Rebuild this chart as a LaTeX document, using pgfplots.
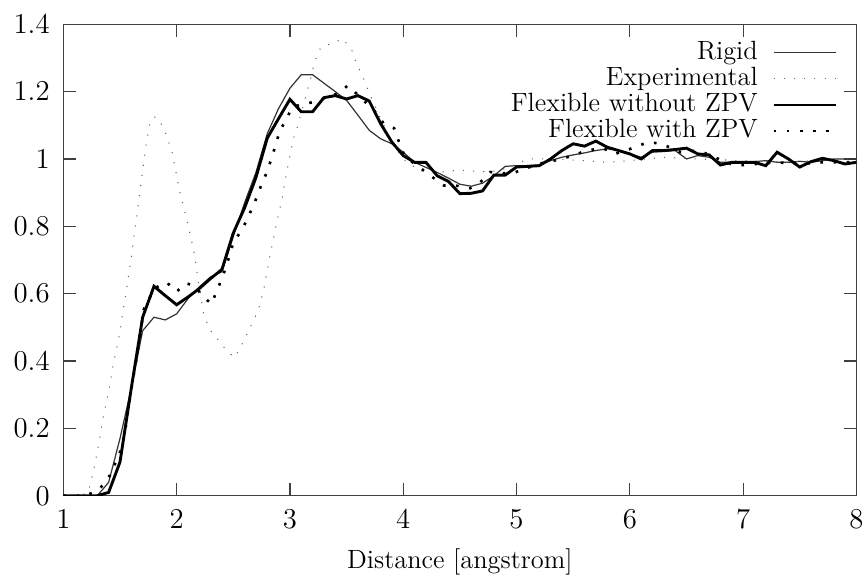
\documentclass[border=0pt]{standalone}
\usepackage{pgfplots}
\pgfplotsset{compat=1.18}
\begin{document}
\begin{tikzpicture}
\begin{axis}[
  width=330.5pt, height=196.5pt, scale only axis,
  xmin=1, xmax=8, ymin=0, ymax=1.4,
  xtick={1,2,3,4,5,6,7,8},
  ytick={0,0.2,0.4,0.6,0.8,1,1.2,1.4},
  tick align=inside, major tick length=5.3pt,
  xtick pos=both, ytick pos=both,
  tick label style={font=\fontsize{13}{15}\selectfont},
  xticklabel style={inner xsep=0pt, yshift=-2.2pt},
  yticklabel style={inner xsep=0pt, xshift=-5.5pt},
  axis line style={black!75, line width=0.5pt},
  every tick/.style={black!75, line width=0.5pt},
  xlabel={Distance [angstrom]},
  xlabel style={at={(axis description cs:0.5,0)}, anchor=center, yshift=-27.7pt, inner sep=0pt, font=\fontsize{11}{13}\selectfont},
  legend plot pos=right,
  legend cell align=right,
  legend image code/.code={\path (0pt,0pt); \draw[#1] (3pt,0pt) -- (29pt,0pt);},
  legend style={draw=none, fill=none, at={(axis description cs:1,1)}, anchor=north east,
    xshift=-7.7pt, yshift=-6.2pt, inner sep=0pt, row sep=0pt, font=\fontsize{11}{13}\selectfont,
    nodes={inner xsep=3pt, inner ysep=0.15pt, text height=8pt, text depth=2.6pt}},
]
% Rigid
\addplot[black!80, line width=0.5pt] table {
1.0 0
1.2 0
1.3 0.0
1.4 0.04
1.5 0.17
1.6 0.32
1.7 0.49
1.8 0.53
1.9 0.522
2.0 0.54
2.1 0.585
2.2 0.62
2.3 0.65
2.4 0.665
2.5 0.77
2.6 0.87
2.7 0.96
2.8 1.075
2.9 1.15
3.0 1.21
3.1 1.25
3.2 1.25
3.3 1.225
3.4 1.2
3.5 1.174
3.6 1.13
3.7 1.085
3.8 1.06
3.9 1.045
4.0 1.02
4.1 0.99
4.2 0.975
4.3 0.96
4.4 0.943
4.5 0.925
4.6 0.919
4.7 0.928
4.8 0.95
4.9 0.978
5.0 0.98
5.1 0.98
5.2 0.982
5.3 0.995
5.4 1.005
5.5 1.012
5.6 1.018
5.7 1.025
5.8 1.03
5.9 1.025
6.0 1.015
6.1 1.005
6.2 1.02
6.3 1.022
6.4 1.025
6.5 1.0
6.6 1.01
6.7 1.005
6.8 0.99
6.9 0.99
7.0 0.99
7.1 0.992
7.2 0.995
7.3 0.99
7.4 0.99
7.5 0.993
7.6 0.99
7.7 0.995
7.8 1.0
7.9 1.0
8.0 1.0
};
\addlegendentry{Rigid}
% Experimental
\addplot[black!60, line width=0.45pt, dash pattern=on 0.45pt off 3.8pt] table {
1.0 0
1.15 0
1.22 0.01
1.27 0.08
1.31 0.15
1.35 0.23
1.40 0.31
1.44 0.39
1.49 0.47
1.53 0.555
1.57 0.64
1.60 0.71
1.66 0.86
1.72 1.02
1.76 1.10
1.80 1.125
1.84 1.12
1.90 1.08
1.96 1.02
2.00 0.95
2.03 0.90
2.10 0.805
2.15 0.73
2.20 0.62
2.24 0.535
2.30 0.49
2.35 0.47
2.42 0.44
2.51 0.41
2.57 0.445
2.62 0.48
2.67 0.515
2.72 0.55
2.77 0.614
2.81 0.69
2.88 0.807
2.93 0.88
2.97 0.96
3.03 1.06
3.07 1.10
3.16 1.21
3.22 1.29
3.27 1.33
3.36 1.342
3.47 1.357
3.55 1.32
3.59 1.28
3.64 1.248
3.68 1.213
3.8 1.12
3.9 1.05
4.0 1.0
4.1 0.976
4.3 0.96
4.5 0.967
4.7 0.962
4.85 0.965
5.0 0.985
5.1 1.0
5.3 1.0
5.6 0.995
5.8 0.99
6.0 0.995
6.3 1.005
6.6 1.0
7.0 0.995
7.4 0.99
7.8 1.0
8.0 1.0
};
\addlegendentry{Experimental}
% Flexible without ZPV
\addplot[black, line width=1.2pt] table {
1.0 0
1.3 0
1.4 0.01
1.5 0.10
1.6 0.32
1.7 0.53
1.8 0.622
1.9 0.594
2.0 0.567
2.1 0.59
2.2 0.615
2.3 0.645
2.4 0.672
2.5 0.78
2.6 0.855
2.7 0.945
2.8 1.062
2.9 1.12
3.0 1.177
3.1 1.14
3.2 1.14
3.3 1.182
3.4 1.188
3.5 1.178
3.6 1.188
3.7 1.172
3.8 1.105
3.9 1.05
4.0 1.01
4.1 0.99
4.2 0.99
4.3 0.95
4.4 0.933
4.5 0.897
4.6 0.898
4.7 0.905
4.8 0.952
4.9 0.952
5.0 0.976
5.1 0.978
5.2 0.98
5.3 1.0
5.4 1.025
5.5 1.045
5.6 1.038
5.7 1.053
5.8 1.035
5.9 1.025
6.0 1.015
6.1 1.0
6.2 1.025
6.3 1.025
6.4 1.028
6.5 1.032
6.6 1.015
6.7 1.012
6.8 0.982
6.9 0.99
7.0 0.99
7.1 0.99
7.2 0.98
7.3 1.02
7.4 1.0
7.5 0.976
7.6 0.992
7.7 1.002
7.8 0.995
7.9 0.985
8.0 0.99
};
\addlegendentry{Flexible without ZPV}
% Flexible with ZPV
\addplot[black, line width=1.1pt, dash pattern=on 1.1pt off 4.4pt] table {
1.0 0
1.2 0
1.23 0.005
1.32 0.02
1.41 0.06
1.45 0.09
1.50 0.13
1.54 0.18
1.57 0.25
1.60 0.317
1.66 0.436
1.71 0.553
1.76 0.586
1.80 0.615
1.91 0.634
2.00 0.606
2.08 0.631
2.16 0.624
2.23 0.592
2.31 0.569
2.35 0.606
2.40 0.644
2.45 0.695
2.50 0.751
2.57 0.787
2.61 0.812
2.66 0.849
2.71 0.888
2.75 0.926
2.80 0.963
2.85 1.015
2.91 1.083
2.97 1.119
3.02 1.154
3.13 1.164
3.23 1.17
3.33 1.184
3.43 1.195
3.51 1.218
3.62 1.184
3.76 1.137
3.83 1.104
3.92 1.091
3.96 1.053
4.01 1.01
4.09 0.988
4.27 0.943
4.36 0.921
4.46 0.921
4.59 0.913
4.68 0.931
4.77 0.961
4.95 0.956
5.07 0.97
5.19 0.985
5.40 1.0
5.51 1.012
5.62 1.025
5.76 1.032
5.87 1.015
6.05 1.035
6.16 1.05
6.28 1.045
6.45 1.02
6.61 1.025
6.70 1.012
6.82 0.995
6.93 0.98
7.11 0.985
7.3 0.99
7.5 0.985
7.7 0.99
7.9 0.99
8.0 0.99
};
\addlegendentry{Flexible with ZPV}
\end{axis}
\path ([shift={(-26.4pt,-33.75pt)}]current axis.south west) rectangle ([shift={(4pt,10.1pt)}]current axis.north east);
\end{tikzpicture}
\end{document}
